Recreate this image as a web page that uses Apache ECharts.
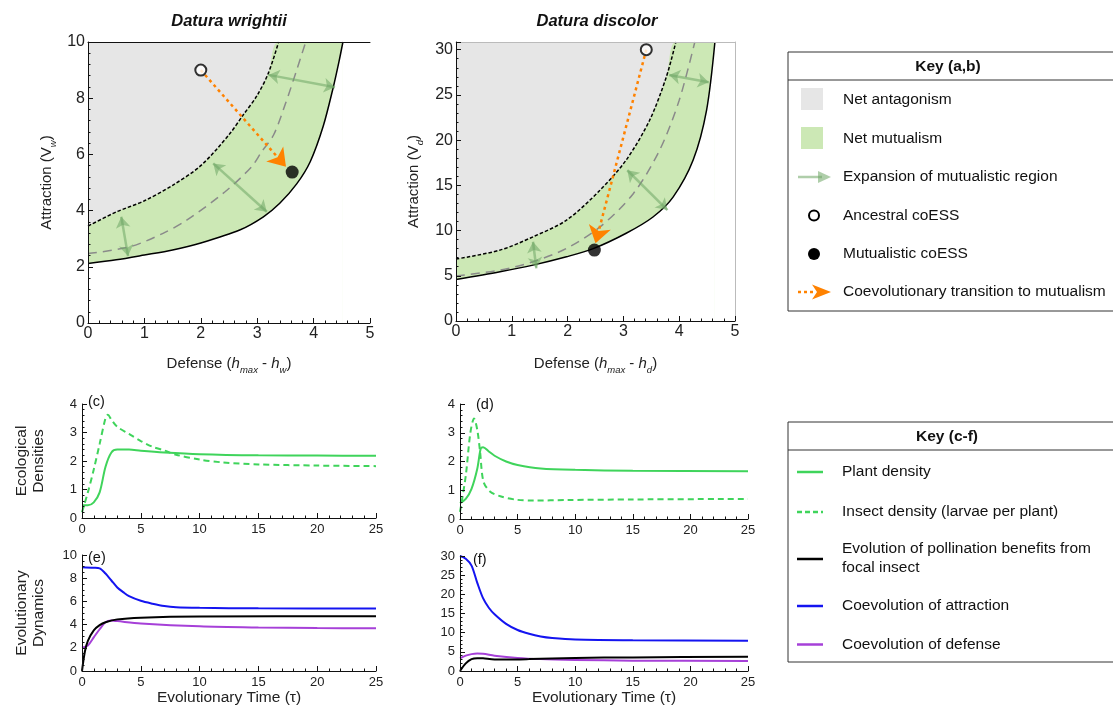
<!DOCTYPE html>
<html>
<head>
<meta charset="utf-8">
<script src="https://cdn.jsdelivr.net/npm/echarts@6/dist/echarts.min.js"></script>
<style>
html, body { margin: 0; padding: 0; background: #fff; }
#main { width: 1113px; height: 713px; }
</style>
</head>
<body>
<div id="main"></div>
<script>
const FONT = '"Liberation Sans", Arial, sans-serif';

// panel (a) Datura wrightii : boundaries [defense, attraction]
const aUpper = [[0, 3.45], [0.5, 3.95], [1, 4.35], [1.5, 4.9], [2, 5.6], [2.5, 6.7], [2.75, 7.4], [3, 8.1], [3.2, 8.9], [3.38, 10]];
const aMid = [[0, 2.47], [0.74, 2.71], [1.33, 3.19], [1.75, 3.66], [2.43, 4.67], [2.9, 5.56], [3.08, 6.1], [3.29, 6.69], [3.5, 7.8], [3.7, 9.0], [3.86, 10]];
const aLower = [[0, 2.12], [0.5, 2.25], [1, 2.42], [1.5, 2.6], [2, 2.85], [2.69, 3.31], [3.11, 3.78], [3.4, 4.26], [3.7, 4.95], [3.94, 5.74], [4.17, 7.0], [4.35, 8.4], [4.45, 9.3], [4.52, 10]];
const aArrows = [[[0.59, 3.78], [0.71, 2.38]], [[2.22, 5.68], [3.17, 3.96]], [[3.2, 8.83], [4.38, 8.39]]];
const aPath = [[2.0, 9.0], [3.51, 5.56]];
const aAncestral = [2.0, 9.0];
const aMutualistic = [3.62, 5.37];
const aYMax = 10;

// panel (b) Datura discolor
const bUpper = [[0, 6.85], [0.79, 7.84], [1.38, 9.31], [1.98, 11.15], [2.58, 14.46], [3.05, 17.8], [3.47, 22.2], [3.77, 27], [3.94, 30.85]];
const bMid = [[0, 4.97], [0.79, 5.63], [1.38, 6.55], [1.98, 8.02], [2.58, 10.4], [3.18, 14.1], [3.65, 18.9], [4.0, 24.4], [4.28, 30.85]];
const bLower = [[0, 4.6], [0.79, 5.45], [1.38, 6.18], [1.98, 7.1], [2.46, 8.0], [3.05, 9.7], [3.53, 11.5], [3.89, 13.7], [4.25, 17.8], [4.49, 23.3], [4.64, 30.85]];
const bArrows = [[[1.38, 8.76], [1.44, 5.82]], [[3.07, 16.67], [3.79, 12.26]], [[3.82, 27.2], [4.53, 26.4]]];
const bPath = [[3.41, 30.0], [2.5, 8.6]];
const bAncestral = [3.41, 30.0];
const bMutualistic = [2.48, 7.84];
const bYMax = 30.85;

// panels (c)-(f) : [time, value]
const cPlant = [[0, 0.45], [0.5, 0.45], [1, 0.55], [1.5, 0.9], [2, 1.8], [2.5, 2.3], [3, 2.4], [4, 2.4], [5, 2.36], [7, 2.3], [10, 2.24], [15, 2.2], [20, 2.19], [25, 2.18]];
const cInsect = [[0, 0.2], [0.5, 0.9], [1, 1.7], [1.5, 2.6], [2, 3.5], [2.2, 3.62], [2.5, 3.45], [3, 3.2], [4, 2.95], [5, 2.7], [6, 2.5], [7, 2.37], [8, 2.22], [10, 2.05], [12, 1.95], [15, 1.88], [20, 1.84], [25, 1.82]];
const dPlant = [[0, 0.55], [0.5, 0.7], [1, 1.05], [1.5, 1.75], [1.8, 2.45], [2, 2.5], [2.5, 2.35], [3, 2.2], [4, 2.0], [5, 1.88], [7, 1.76], [10, 1.71], [15, 1.68], [25, 1.66]];
const dInsect = [[0, 0.25], [0.5, 1.5], [0.9, 3.0], [1.22, 3.5], [1.5, 3.1], [1.74, 2.35], [2.03, 1.31], [2.6, 0.96], [3.5, 0.79], [4.9, 0.67], [6.4, 0.64], [9.3, 0.66], [15, 0.68], [25, 0.7]];
const eAttract = [[0, 8.95], [1, 8.9], [1.5, 8.85], [2, 8.4], [2.5, 7.8], [3, 7.2], [3.5, 6.8], [4, 6.45], [5, 6.05], [6, 5.8], [7, 5.6], [8, 5.5], [10, 5.45], [15, 5.4], [25, 5.38]];
const ePollin = [[0, 0], [0.25, 1.7], [0.5, 2.6], [1, 3.5], [1.5, 3.95], [2, 4.2], [3, 4.45], [5, 4.6], [10, 4.7], [25, 4.72]];
const eDefense = [[0, 2.0], [0.5, 2.2], [1, 2.9], [1.5, 3.6], [2, 4.2], [2.5, 4.35], [3, 4.3], [5, 4.1], [10, 3.85], [15, 3.75], [20, 3.7], [25, 3.68]];
const fAttract = [[0, 30], [0.5, 29.3], [1, 27.5], [1.5, 23], [2, 19], [2.5, 16.5], [3, 14.8], [4, 12.3], [5, 10.7], [6, 9.7], [7, 9.0], [8, 8.6], [10, 8.2], [15, 8.0], [25, 7.9]];
const fPollin = [[0, 0], [0.5, 2.0], [1, 3.1], [1.5, 3.35], [2, 3.3], [3, 3.0], [4, 3.0], [6, 3.1], [10, 3.4], [15, 3.55], [25, 3.7]];
const fDefense = [[0, 3.3], [0.5, 4.0], [1, 4.4], [1.5, 4.55], [2, 4.5], [3, 4.0], [5, 3.4], [7, 3.1], [10, 2.9], [15, 2.7], [25, 2.6]];

const GRAY = '#e6e6e6';
const MINT = '#cce8b5';
const ARROW = 'rgba(110,165,100,0.55)';
const ORANGE = '#ff8200';
const GREEN = '#3fd45b';
const BLUE = '#1414f0';
const PURPLE = '#a640d8';
const SMOOTH = 0.3;

const chart = echarts.init(document.getElementById('main'), null, {renderer: 'canvas'});

const nameRich = {
    n: {fontFamily: FONT, fontSize: 15, color: '#222', lineHeight: 22, verticalAlign: 'middle'},
    i: {fontFamily: FONT, fontSize: 15, color: '#222', fontStyle: 'italic', lineHeight: 22, verticalAlign: 'middle'},
    s: {fontFamily: FONT, fontSize: 9.5, color: '#222', fontStyle: 'italic', lineHeight: 22, verticalAlign: 'bottom'},
};

function axis(grid, max, interval, fontSize, minorSplit, extra) {
    return Object.assign({
        type: 'value',
        gridIndex: grid,
        min: 0,
        max: max,
        interval: interval,
        z: 10,
        axisLine: {show: true, onZero: false, lineStyle: {color: '#111', width: 1}},
        axisTick: {show: true, inside: true, length: 5, lineStyle: {color: '#111'}},
        minorTick: {show: true, splitNumber: minorSplit, length: 2.5, lineStyle: {color: '#111'}},
        splitLine: {show: false},
        axisLabel: {color: '#222', fontFamily: FONT, fontSize: fontSize, margin: fontSize > 14 ? 3 : 5},
    }, extra || {});
}

function frameAxis(grid, max, color, pos) {
    return {
        type: 'value',
        gridIndex: grid,
        min: 0,
        max: max,
        position: pos,
        z: 10,
        axisLine: {show: true, onZero: false, lineStyle: {color: color, width: 1}},
        axisTick: {show: false},
        axisLabel: {show: false},
        splitLine: {show: false},
    };
}

function curve(x, y, data, color, type, width, z) {
    return {
        type: 'line', xAxisIndex: x, yAxisIndex: y, data: data,
        showSymbol: false, smooth: SMOOTH, z: z || 5,
        lineStyle: {color: color, width: width, type: type},
        silent: true, animation: false,
    };
}

function area(x, y, data, color, z) {
    return {
        type: 'line', xAxisIndex: x, yAxisIndex: y, data: data,
        showSymbol: false, smooth: SMOOTH, z: z,
        lineStyle: {width: 0, opacity: 0},
        areaStyle: {color: color, opacity: 1},
        silent: true, animation: false,
    };
}

function arrows(x, y, pairs) {
    return {
        type: 'lines', coordinateSystem: 'cartesian2d', xAxisIndex: x, yAxisIndex: y,
        data: pairs.map(p => ({coords: p})),
        symbol: ['arrow', 'arrow'], symbolSize: 11, z: 6,
        lineStyle: {color: ARROW, width: 2.5, opacity: 1, curveness: 0},
        silent: true, animation: false,
    };
}

function path(x, y, pair) {
    return {
        type: 'lines', coordinateSystem: 'cartesian2d', xAxisIndex: x, yAxisIndex: y,
        data: [{coords: pair}],
        symbol: ['none', 'arrow'], symbolSize: 17, z: 7,
        lineStyle: {color: ORANGE, width: 2.5, type: [3, 3.5], opacity: 1, curveness: 0},
        silent: true, animation: false,
    };
}

function dots(x, y, open, filled) {
    return [
        {type: 'scatter', xAxisIndex: x, yAxisIndex: y, data: [open], symbolSize: 11, z: 8,
            itemStyle: {color: '#fff', borderColor: '#000', borderWidth: 2}, silent: true, animation: false},
        {type: 'scatter', xAxisIndex: x, yAxisIndex: y, data: [filled], symbolSize: 13, z: 8,
            itemStyle: {color: '#000'}, silent: true, animation: false},
    ];
}

const last = arr => arr[arr.length - 1];

function text(x, y, str, opts) {
    return {
        type: 'text', x: x, y: y, silent: true,
        style: Object.assign({text: str, fontFamily: FONT, fontSize: 15.5, fill: '#111',
            textAlign: 'left', textVerticalAlign: 'middle'}, opts || {}),
    };
}

const keyGraphics = [
    // key (a,b)
    {type: 'rect', shape: {x: 788, y: 52, width: 340, height: 259}, style: {fill: 'none', stroke: '#333', lineWidth: 1}},
    {type: 'line', shape: {x1: 788, y1: 80, x2: 1113, y2: 80}, style: {stroke: '#333', lineWidth: 1}},
    text(948, 67, 'Key (a,b)', {fontWeight: 'bold', textAlign: 'center'}),
    {type: 'rect', shape: {x: 801, y: 88, width: 22, height: 22}, style: {fill: GRAY}},
    text(843, 100, 'Net antagonism'),
    {type: 'rect', shape: {x: 801, y: 127, width: 22, height: 22}, style: {fill: MINT}},
    text(843, 138.5, 'Net mutualism'),
    {type: 'line', shape: {x1: 798, y1: 177, x2: 822, y2: 177}, style: {stroke: ARROW, lineWidth: 2.5}},
    {type: 'polygon', shape: {points: [[818, 171], [831, 177], [818, 183]]}, style: {fill: ARROW}},
    text(843, 177, 'Expansion of mutualistic region'),
    {type: 'circle', shape: {cx: 814, cy: 215.5, r: 5}, style: {fill: '#fff', stroke: '#000', lineWidth: 2}},
    text(843, 215.5, 'Ancestral coESS'),
    {type: 'circle', shape: {cx: 814, cy: 254, r: 6}, style: {fill: '#000'}},
    text(843, 254, 'Mutualistic coESS'),
    {type: 'line', shape: {x1: 798, y1: 292, x2: 815, y2: 292}, style: {stroke: ORANGE, lineWidth: 2.5, lineDash: [3, 3]}},
    {type: 'polygon', shape: {points: [[812, 284.5], [831, 292], [812, 299.5], [817, 292]]}, style: {fill: ORANGE}},
    text(843, 292, 'Coevolutionary transition to mutualism'),

    // key (c-f)
    {type: 'rect', shape: {x: 788, y: 422, width: 340, height: 240}, style: {fill: 'none', stroke: '#333', lineWidth: 1}},
    {type: 'line', shape: {x1: 788, y1: 450, x2: 1113, y2: 450}, style: {stroke: '#333', lineWidth: 1}},
    text(947, 437, 'Key (c-f)', {fontWeight: 'bold', textAlign: 'center'}),
    {type: 'line', shape: {x1: 797, y1: 472, x2: 823, y2: 472}, style: {stroke: GREEN, lineWidth: 2.5}},
    text(842, 472, 'Plant density'),
    {type: 'line', shape: {x1: 797, y1: 512, x2: 823, y2: 512}, style: {stroke: GREEN, lineWidth: 2.5, lineDash: [5, 3]}},
    text(842, 512, 'Insect density (larvae per plant)'),
    {type: 'line', shape: {x1: 797, y1: 559, x2: 823, y2: 559}, style: {stroke: '#000', lineWidth: 2.5}},
    text(842, 548.5, 'Evolution of pollination benefits from'),
    text(842, 567.5, 'focal insect'),
    {type: 'line', shape: {x1: 797, y1: 606, x2: 823, y2: 606}, style: {stroke: BLUE, lineWidth: 2.5}},
    text(842, 606, 'Coevolution of attraction'),
    {type: 'line', shape: {x1: 797, y1: 644.5, x2: 823, y2: 644.5}, style: {stroke: PURPLE, lineWidth: 2.5}},
    text(842, 644.5, 'Coevolution of defense'),

    // titles and panel tags
    text(229, 21, 'Datura wrightii', {fontWeight: 'bold', fontStyle: 'italic', textAlign: 'center', fontSize: 16.5}),
    text(597, 21, 'Datura discolor', {fontWeight: 'bold', fontStyle: 'italic', textAlign: 'center', fontSize: 16.5}),
    text(97, 58, '(a)'),
    text(465, 58, '(b)'),
    text(88, 402, '(c)', {fontSize: 14.5}),
    text(476, 405, '(d)', {fontSize: 14.5}),
    text(88, 558, '(e)', {fontSize: 14.5}),
    text(473, 560, '(f)', {fontSize: 14.5}),
];

const sideName = {fontFamily: FONT, fontSize: 15.5, color: '#222', lineHeight: 17};
const timeName = {fontFamily: FONT, fontSize: 15.5, color: '#222'};

chart.setOption({
    backgroundColor: '#fff',
    animation: false,
    grid: [
        {left: 88, top: 42, width: 282, height: 281},
        {left: 456, top: 42, width: 279, height: 279},
        {left: 82, top: 404, width: 294, height: 114},
        {left: 460, top: 404, width: 288, height: 115},
        {left: 82, top: 555, width: 294, height: 116},
        {left: 460, top: 556, width: 288, height: 115},
    ],
    xAxis: [
        axis(0, 5, 1, 16, 5, {name: '{n|Defense (}{i|h}{s|max}{n| - }{i|h}{s|w}{n|)}', nameLocation: 'middle', nameGap: 30, nameTextStyle: {rich: nameRich}}),
        axis(1, 5, 1, 16, 5, {name: '{n|Defense (}{i|h}{s|max}{n| - }{i|h}{s|d}{n|)}', nameLocation: 'middle', nameGap: 32, nameTextStyle: {rich: nameRich}}),
        axis(2, 25, 5, 13, 5),
        axis(3, 25, 5, 13, 5),
        axis(4, 25, 5, 13, 5, {name: 'Evolutionary Time (τ)', nameLocation: 'middle', nameGap: 13, nameTextStyle: timeName}),
        axis(5, 25, 5, 13, 5, {name: 'Evolutionary Time (τ)', nameLocation: 'middle', nameGap: 13, nameTextStyle: timeName}),
        frameAxis(0, 5, '#111', 'top'),
        frameAxis(1, 5, '#bbb', 'top'),
    ],
    yAxis: [
        axis(0, aYMax, 2, 16, 5, {name: '{n|Attraction (V}{s|w}{n|)}', nameLocation: 'middle', nameRotate: 90, nameGap: 30, nameTextStyle: {rich: nameRich}}),
        axis(1, bYMax, 5, 16, 5, {name: '{n|Attraction (V}{s|d}{n|)}', nameLocation: 'middle', nameRotate: 90, nameGap: 31, nameTextStyle: {rich: nameRich}}),
        axis(2, 4, 1, 13, 5, {name: 'Ecological\nDensities', nameLocation: 'middle', nameRotate: 90, nameGap: 35, nameTextStyle: sideName}),
        axis(3, 4, 1, 13, 5),
        axis(4, 10, 2, 13, 4, {name: 'Evolutionary\nDynamics', nameLocation: 'middle', nameRotate: 90, nameGap: 35, nameTextStyle: sideName}),
        axis(5, 30, 5, 13, 5),
        frameAxis(1, bYMax, '#bbb', 'right'),
    ],
    graphic: {elements: keyGraphics},
    series: [
        // (a)
        area(0, 0, [[0, aYMax], [last(aUpper)[0], aYMax]], GRAY, 1),
        area(0, 0, aUpper.concat([[last(aLower)[0], aYMax]]), MINT, 2),
        area(0, 0, aLower, '#fff', 3),
        curve(0, 0, aMid, '#8a8a8a', [9, 6], 1.5),
        curve(0, 0, aUpper, '#000', [3.5, 2], 1.5),
        curve(0, 0, aLower, '#000', 'solid', 1.5),
        arrows(0, 0, aArrows),
        path(0, 0, aPath),
        ...dots(0, 0, aAncestral, aMutualistic),
        // (b)
        area(1, 1, [[0, bYMax], [last(bUpper)[0], bYMax]], GRAY, 1),
        area(1, 1, bUpper.concat([[last(bLower)[0], bYMax]]), MINT, 2),
        area(1, 1, bLower, '#fff', 3),
        curve(1, 1, bMid, '#8a8a8a', [9, 6], 1.5),
        curve(1, 1, bUpper, '#000', [3.5, 2], 1.5),
        curve(1, 1, bLower, '#000', 'solid', 1.5),
        arrows(1, 1, bArrows),
        path(1, 1, bPath),
        ...dots(1, 1, bAncestral, bMutualistic),
        // (c)
        curve(2, 2, cInsect, GREEN, [6, 4], 2),
        curve(2, 2, cPlant, GREEN, 'solid', 2),
        // (d)
        curve(3, 3, dInsect, GREEN, [6, 4], 2),
        curve(3, 3, dPlant, GREEN, 'solid', 2),
        // (e)
        curve(4, 4, eAttract, BLUE, 'solid', 2),
        curve(4, 4, eDefense, PURPLE, 'solid', 2),
        curve(4, 4, ePollin, '#000', 'solid', 2),
        // (f)
        curve(5, 5, fAttract, BLUE, 'solid', 2),
        curve(5, 5, fDefense, PURPLE, 'solid', 2),
        curve(5, 5, fPollin, '#000', 'solid', 2),
    ],
});
</script>
</body>
</html>
